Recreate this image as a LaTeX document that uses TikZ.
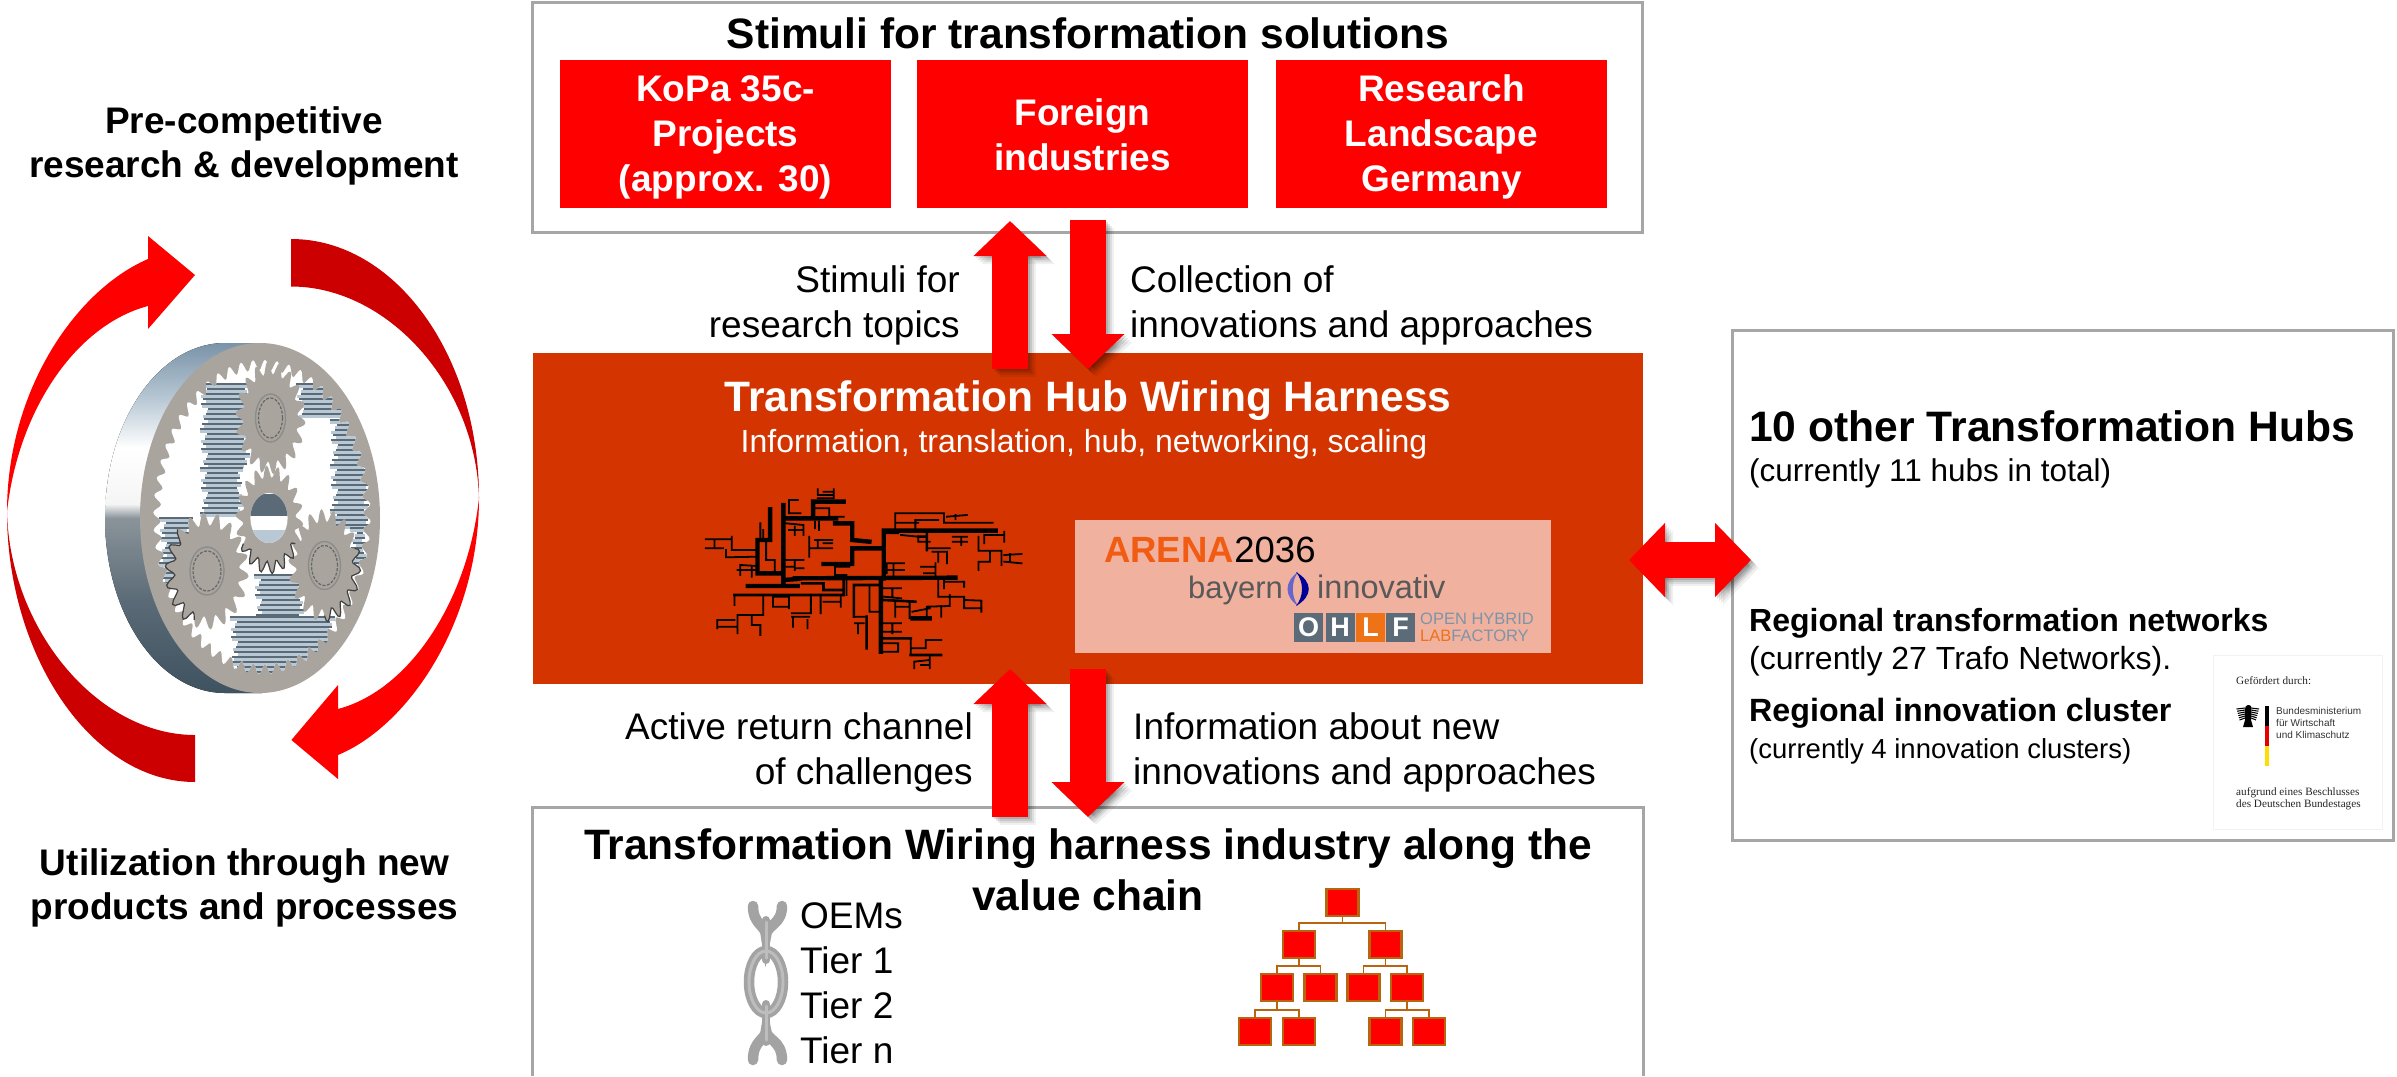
\documentclass[tikz,border=0pt]{standalone}
\usepackage{fontspec}
\setmainfont{Liberation Sans}
\newfontfamily\serifl{Liberation Serif}
\usetikzlibrary{arrows.meta,shapes.geometric}
\definecolor{boxgrey}{HTML}{A6A6A6}
\definecolor{hubred}{HTML}{D43500}
\definecolor{darkr}{HTML}{CC0000}
\definecolor{panel}{HTML}{F0B19F}
\definecolor{gearface}{HTML}{A9A59E}
\definecolor{orgbrown}{HTML}{B9650F}
\definecolor{ohlfgrey}{HTML}{5B6B78}
\definecolor{ohlfor}{HTML}{EE7216}
\definecolor{ohlft}{HTML}{7D94A8}
\definecolor{sideA}{HTML}{3F5260}
\definecolor{sideB}{HTML}{5A6A76}
\definecolor{sideC}{HTML}{8A949A}
\definecolor{sideD}{HTML}{F5F5F5}
\definecolor{sideE}{HTML}{B8C8D4}
\definecolor{sideF}{HTML}{7A93A8}
\definecolor{linkc}{HTML}{A3A3A3}
\definecolor{linkhic}{HTML}{BDBDBD}
\pgfdeclareverticalshading{sideshade}{100bp}{
  color(0bp)=(sideA); color(25bp)=(sideA); color(38bp)=(sideB);
  color(50bp)=(sideC); color(52bp)=(sideD); color(60bp)=(white);
  color(67bp)=(sideE); color(75bp)=(sideF); color(100bp)=(sideF)}
\newcommand\fsz[2]{\fontsize{#1}{#2}\selectfont}
\newcommand\toothed[6]{plot[variable=\t,samples=#5*8+1,domain=0:360]
  ({#1+#3*(1+#6*sin(360*mod((#5/360)*\t,1)))*cos(\t)},{#2+#4*(1+#6*sin(360*mod((#5/360)*\t,1)))*sin(\t)})}
\newcommand\toothedpart[8]{plot[variable=\t,samples=40,domain=#7:#8]
  ({#1+#3*(1+#6*sin(360*mod((#5/360)*\t+1,1)))*cos(\t)},{#2+#4*(1+#6*sin(360*mod((#5/360)*\t+1,1)))*sin(\t)})}
\newcommand\stripes[4]{\foreach \k in {0,...,#4}{
  \draw[line width=2.6pt,sideB] ({#1+mod(\k*7,9)},{#3+5*\k}) -- ({#2-mod(\k*5,7)},{#3+5*\k});
  \draw[line width=2.2pt,sideE] ({#1+mod(\k*5,9)},{#3+2.5+5*\k}) -- ({#2-mod(\k*3,7)},{#3+2.5+5*\k});}}
\newcommand\fatarrow[3]{%
  \foreach \s/\op in {8/.06,6/.08,4/.1,2/.12}{\draw[#1,draw=black,fill=black,opacity=\op,transform canvas={xshift=\s pt,yshift=-\s pt}] (#2) -- (#3);}
  \draw[#1] (#2) -- (#3);}
\newcommand\planethub[4]{%
  \draw[black!45,line width=1.4pt,fill=gearface] (#1,#2) ellipse [x radius=#3pt,y radius=#4pt];
  \draw[black!60,line width=1.2pt,dash pattern=on 3pt off 1.5pt] (#1,#2) ellipse [x radius=#3pt-3pt,y radius=#4pt-4pt];}
\tikzset{
  box/.style={draw=boxgrey,line width=3pt,fill=white,inner sep=0pt},
  redbox/.style={fill=red,inner sep=0pt,minimum width=331pt,minimum height=148pt},
  redtext/.style={text=white,font=\bfseries\fsz{37}{45},align=center,inner sep=0pt,anchor=base},
  lab/.style={font=\fsz{37}{45},inner sep=0pt,anchor=base},
  blab/.style={font=\bfseries\fsz{37}{44},inner sep=0pt,anchor=base,align=center},
  head/.style={font=\bfseries\fsz{42.5}{51},inner sep=0pt,anchor=base,align=center},
  fatv/.style={line width=36pt,draw=red,-{Triangle[width=71pt,length=35pt]}},
  fatd/.style={line width=36pt,draw=red,{Triangle[width=72pt,length=36pt]}-{Triangle[width=72pt,length=36pt]}},
  org/.style={draw=orgbrown,line width=2.5pt,fill=red,inner sep=0pt,minimum width=32pt,minimum height=27pt},
  orgline/.style={draw=orgbrown,line width=1.6pt},
  link/.style={draw=linkc,line width=10.5pt,line cap=round},
  linkhi/.style={draw=linkhic,line width=3pt,line cap=round},
  ohl/.style={fill=ohlfgrey,text=white,inner sep=0pt,minimum width=29pt,minimum height=29pt,font=\bfseries\fsz{27}{27}},
  fund/.style={font=\serifl\fsz{11.2}{12},text=black!85,inner sep=0pt,anchor=base west,align=left},
}
\begin{document}
\begin{tikzpicture}[x=1pt,y=-1pt]
\useasboundingbox (0,0) rectangle (2397,1076);
% ---- boxes
\node[box,minimum width=1110pt,minimum height=230pt] (stimbox) at (1087.5,117.5) {};
\node[fill=hubred,inner sep=0pt,minimum width=1110pt,minimum height=331pt] (hub) at (1088,518.5) {};
\coordinate (bbl) at (532,1076); \coordinate (bbtl) at (532,807);
\coordinate (bbtr) at (1643,807); \coordinate (bbr) at (1643,1076);
\draw[draw=boxgrey,line width=3pt] (bbl) -- (bbtl) -- (bbtr) -- (bbr);
\node[box,minimum width=661pt,minimum height=510pt] (hubsbox) at (2062.5,585) {};
% ---- top
\node[head] (stimtitle) at (1088,48) {Stimuli for transformation solutions};
\node[redbox] (kopabox) at (725.5,134) {};
\node[redbox] (foreignbox) at (1082.5,134) {};
\node[redbox] (landbox) at (1441.5,134) {};
\node[redtext] (kopa) at (725.5,191) {KoPa 35c-\\Projects\\(approx. 30)};
\node[redtext] (foreign) at (1082.5,170) {Foreign\\industries};
\node[redtext] (landscape) at (1441.5,191) {Research\\Landscape\\Germany};
% ---- labels
\node[lab,align=right,anchor=base east] (l1) at (960,337) {Stimuli for\\research topics};
\node[lab,align=left,anchor=base west] (l2) at (1130,337) {Collection of\\innovations and approaches};
\node[lab,align=right,anchor=base east] (l3) at (973,784) {Active return channel\\of challenges};
\node[lab,align=left,anchor=base west] (l4) at (1133,784) {Information about new\\innovations and approaches};
% ---- hub text
\node[head,text=white] (hubtitle) at (1088,411) {Transformation Hub Wiring Harness};
\node[font=\fsz{32}{38},text=white,inner sep=0pt,anchor=base] (hubsub) at (1084,452) {Information, translation, hub, networking, scaling};
% ---- harness
\begin{scope}[shift={(680,480)},x=0.574pt,y=-0.3333pt,line cap=rect]
\draw[black,line width=4.4pt] (118,318)--(205,318) (135,280)--(180,280) (135,180)--(135,280) (157,88)--(157,180) (135,180)--(157,180) (180,75)--(180,305) (180,300)--(205,297) (200,295)--(480,293) (350,295)--(350,515) (355,152)--(550,152) (355,152)--(355,295) (300,205)--(355,205) (300,205)--(300,250) (250,252)--(300,252) (232,65)--(285,65) (232,65)--(232,115) (180,115)--(272,115) (270,130)--(300,130) (300,130)--(300,175) (300,180)--(330,185) (405,415)--(435,415);
\draw[black,line width=2.6pt] (95,345)--(285,345) (213,310)--(250,310) (250,310)--(250,330) (250,330)--(285,330) (285,300)--(285,345) (415,170)--(430,170) (430,160)--(430,210) (355,360)--(410,365) (303,315)--(345,315) (303,315)--(303,410) (325,410)--(325,505) (350,475)--(402,475) (402,525)--(455,525);
\draw[black,line width=1.8pt] (95,345)--(95,375) (145,345)--(145,405) (100,405)--(145,405) (100,405)--(100,460) (125,405)--(125,435) (125,435)--(140,435) (140,435)--(140,465) (65,440)--(100,440) (65,420)--(95,420) (65,420)--(65,445)
(162,350)--(190,350) (162,350)--(162,380) (162,380)--(190,380) (190,350)--(190,385) (228,345)--(228,400) (228,400)--(195,400) (195,410)--(225,410) (197,410)--(197,440) (222,420)--(222,445) (245,345)--(245,400) (250,365)--(280,365) (280,350)--(280,380)
(303,410)--(325,410) (305,430)--(320,430) (310,430)--(310,460) (330,315)--(330,395) (330,395)--(345,395) (355,325)--(385,325) (370,330)--(370,350) (355,350)--(385,355) (375,365)--(375,410) (375,380)--(400,380) (400,365)--(400,415) (405,395)--(435,385) (470,345)--(470,378) (430,380)--(470,378) (430,380)--(430,415) (455,378)--(455,410) (495,360)--(525,362) (495,360)--(495,385) (495,385)--(525,385) (525,362)--(525,395)
(450,295)--(450,350) (450,350)--(495,350) (495,350)--(495,380) (460,295)--(460,325) (460,305)--(495,305) (495,305)--(495,320) (355,430)--(385,430) (370,430)--(370,460) (355,455)--(385,455) (402,475)--(402,525) (428,480)--(455,480) (428,480)--(428,505) (402,505)--(428,505) (355,490)--(380,490) (380,490)--(380,515) (350,515)--(380,515) (408,545)--(435,540) (408,545)--(408,565) (435,530)--(435,565) (420,555)--(435,555) (290,295)--(290,345)
(45,178)--(90,178) (45,205)--(75,205) (60,180)--(60,205) (90,170)--(90,210) (90,210)--(135,210) (80,210)--(80,232) (80,232)--(135,230) (105,255)--(135,258) (105,255)--(105,285) (125,260)--(125,290) (100,270)--(135,270) (140,130)--(140,180) (145,150)--(145,180) (150,180)--(150,240) (150,240)--(165,240) (165,240)--(165,270) (185,240)--(215,240) (200,240)--(200,270) (200,265)--(215,265) (185,260)--(200,260) (190,60)--(205,60) (190,60)--(190,100) (190,100)--(210,100)
(240,28)--(240,45) (240,45)--(268,45) (268,28)--(268,55) (250,35)--(268,35) (240,55)--(268,55) (235,85)--(260,85) (260,85)--(260,110) (260,110)--(285,110) (185,130)--(215,135) (190,150)--(215,150) (200,140)--(200,165) (215,135)--(215,165) (235,125)--(235,145) (242,125)--(242,150) (225,170)--(225,230) (225,205)--(265,205) (235,180)--(265,180) (240,180)--(240,205) (250,190)--(265,190) (270,260)--(295,260) (270,260)--(270,285) (270,285)--(290,285)
(375,100)--(460,100) (375,100)--(375,145) (375,128)--(415,128) (410,120)--(450,120) (410,120)--(410,145) (460,100)--(460,128) (460,128)--(545,128) (465,110)--(500,105) (480,105)--(480,118) (360,160)--(380,160) (385,165)--(415,170) (415,170)--(415,185) (415,185)--(435,185) (430,205)--(470,205) (440,215)--(465,215) (450,215)--(450,245) (465,215)--(465,250) (420,260)--(445,260) (445,250)--(445,285) (425,280)--(445,280) (475,170)--(500,170) (475,185)--(500,185) (490,170)--(490,195) (520,170)--(520,212) (530,165)--(565,165) (530,165)--(530,190) (565,155)--(565,185) (520,212)--(560,212) (540,212)--(540,245) (520,245)--(540,245) (520,245)--(520,270) (560,212)--(560,255) (565,225)--(595,222) (565,245)--(595,250) (575,222)--(575,245) (360,250)--(390,250) (360,250)--(360,280) (360,270)--(390,270) (372,250)--(372,290);
\end{scope}
% ---- partner panel
\node[fill=panel,inner sep=0pt,minimum width=476pt,minimum height=133pt] (partner) at (1313,586.5) {};
\node[inner sep=0pt,anchor=base west,font=\bfseries\fsz{36.5}{40},text=ohlfor!80!red] (arena) at (1104,562) {ARENA};
\node[inner sep=0pt,anchor=base west,font=\fsz{36.5}{40},text=black] (arenanum) at (arena.base east) {2036};
\node[inner sep=0pt,anchor=base west,font=\fsz{31}{36},text=black!65] (bayern) at (1188,598) {bayern};
\node[inner sep=0pt,anchor=base west,font=\fsz{32.5}{36},text=black!65] (innov) at (1317,598) {innovativ};
\fill[blue!50!white!80!black] (1298,572) .. controls (1284,582) and (1284,596) .. (1298,606) .. controls (1291,596) and (1291,582) .. (1298,572) -- cycle;
\fill[blue!60!black] (1296,572) .. controls (1313,582) and (1313,596) .. (1296,606) .. controls (1304,596) and (1304,582) .. (1296,572) -- cycle;
\node[ohl] (oO) at (1308.5,627.5) {O};
\node[ohl] (oH) at (1340,627.5) {H};
\node[ohl,fill=ohlfor] (oL) at (1370.5,627.5) {L};
\node[ohl] (oF) at (1400.5,627.5) {F};
\node[inner sep=0pt,anchor=base west,font=\fsz{16.5}{18},text=ohlft] (ohlf1) at (1420,624) {OPEN HYBRID};
\node[inner sep=0pt,anchor=base west,font=\fsz{16.5}{18},text=ohlft] (ohlf2) at (1420,641) {\textcolor{ohlfor}{LAB}FACTORY};
% ---- bottom box contents
\node[head] (valuetitle) at (1088,910) {Transformation Wiring harness industry along the\\value chain};
\draw[link] (753,906) .. controls (753,925) and (766,925) .. (766,936) .. controls (766,925) and (782,925) .. (782,906);
\draw[link] (766,982) ellipse [x radius=17pt,y radius=31pt];
\draw[link] (753,1060) .. controls (753,1040) and (766,1040) .. (766,1030) .. controls (766,1040) and (782,1040) .. (782,1060);
\draw[draw=linkc,line width=8pt,line cap=round] (766,920) -- (766,960) (766,1004) -- (766,1042);
\draw[linkhi] (766,922) -- (766,958) (766,1006) -- (766,1040);
\draw[linkhi] (766,982) ellipse [x radius=17pt,y radius=31pt];
\node[lab,anchor=base west] (oems) at (800,928) {OEMs};
\node[lab,anchor=base west] (tier1) at (800,973) {Tier 1};
\node[lab,anchor=base west] (tier2) at (800,1018) {Tier 2};
\node[lab,anchor=base west] (tiern) at (800,1063) {Tier n};
% org chart
\node[org] (r) at (1342.5,902.5) {};
\node[org] (a) at (1299,944.5) {};
\node[org] (b) at (1385.5,944.5) {};
\node[org] (c1) at (1277,987.5) {};
\node[org] (c2) at (1320.5,987.5) {};
\node[org] (c3) at (1363.5,987.5) {};
\node[org] (c4) at (1407,987.5) {};
\node[org] (d1) at (1255,1031.5) {};
\node[org] (d2) at (1299,1031.5) {};
\node[org] (d3) at (1385.5,1031.5) {};
\node[org] (d4) at (1429,1031.5) {};
\draw[orgline] (r.south) -- ++(0,6) -| (a.north);
\draw[orgline] (r.south) -- ++(0,6) -| (b.north);
\draw[orgline] (a.south) -- ++(0,7) -| (c1.north);
\draw[orgline] (a.south) -- ++(0,7) -| (c2.north);
\draw[orgline] (b.south) -- ++(0,7) -| (c3.north);
\draw[orgline] (b.south) -- ++(0,7) -| (c4.north);
\draw[orgline] (c1.south) -- ++(0,8) -| (d1.north);
\draw[orgline] (c1.south) -- ++(0,8) -| (d2.north);
\draw[orgline] (c4.south) -- ++(0,8) -| (d3.north);
\draw[orgline] (c4.south) -- ++(0,8) -| (d4.north);
% ---- fat arrows
\coordinate (ua0) at (1010,369); \coordinate (ua1) at (1010,221);
\coordinate (da0) at (1088,220); \coordinate (da1) at (1088,369);
\coordinate (ub0) at (1010,817); \coordinate (ub1) at (1010,669);
\coordinate (db0) at (1088,669); \coordinate (db1) at (1088,817);
\coordinate (ha0) at (1629,560); \coordinate (ha1) at (1751,560);
\fatarrow{fatv}{ua0}{ua1}
\fatarrow{fatv}{da0}{da1}
\fatarrow{fatv}{ub0}{ub1}
\fatarrow{fatv}{db0}{db1}
\fatarrow{fatd}{ha0}{ha1}
% ---- right box
\node[inner sep=0pt,anchor=base west,font=\bfseries\fsz{42.6}{51}] (h10) at (1749,441) {10 other Transformation Hubs};
\node[inner sep=0pt,anchor=base west,font=\fsz{31.5}{36}] (h11) at (1749,481) {(currently 11 hubs in total)};
\node[inner sep=0pt,anchor=base west,font=\bfseries\fsz{32}{38}] (rtn) at (1749,631) {Regional transformation networks};
\node[inner sep=0pt,anchor=base west,font=\fsz{32}{38}] (rtn2) at (1749,669) {(currently 27 Trafo Networks).};
\node[inner sep=0pt,anchor=base west,font=\bfseries\fsz{32.2}{38}] (ric) at (1749,721.5) {Regional innovation cluster};
\node[inner sep=0pt,anchor=base west,font=\fsz{27.5}{32}] (ric2) at (1749,758) {(currently 4 innovation clusters)};
% funding logo
\node[draw=black!5,line width=.6pt,fill=white,inner sep=0pt,minimum width=169pt,minimum height=174pt] (fundbox) at (2297.5,742) {};
\node[fund] (f1) at (2236,684) {Gefördert durch:};
\fill[black] (2248,705) .. controls (2251,705) and (2252,707) .. (2251,709) -- (2251,720) -- (2253,727) -- (2243,727) -- (2245,720) -- (2245,709) .. controls (2245,707) and (2246,705) .. (2248,705) -- cycle;
\foreach \i in {0,...,5}{
  \draw[black,line width=1.1pt] (2245,{708+2*\i}) -- ({2236.5+.6*\i},{709+2.2*\i});
  \draw[black,line width=1.1pt] (2251,{708+2*\i}) -- ({2259-.6*\i},{709+2.2*\i});}
\fill[black] (2265,706) rectangle (2269,726);
\fill[red!90!black] (2265,726) rectangle (2269,746);
\fill[yellow!80!orange] (2265,746) rectangle (2269,766);
\node[inner sep=0pt,anchor=base west,font=\fsz{10}{12},text=black!80,align=left] (f2) at (2276,714) {Bundesministerium};
\node[inner sep=0pt,anchor=base west,font=\fsz{10}{12},text=black!80] (f3) at (2276,726) {für Wirtschaft};
\node[inner sep=0pt,anchor=base west,font=\fsz{10}{12},text=black!80] (f4) at (2276,738) {und Klimaschutz};
\node[fund] (f5) at (2236,795) {aufgrund eines Beschlusses};
\node[fund] (f6) at (2236,807) {des Deutschen Bundestages};
% ---- left
\node[blab] (pre) at (244,177) {Pre-competitive\\research \& development};
\node[blab] (util) at (244.5,919) {Utilization through new\\products and processes};
% circular arrows
\fill[darkr] (291,239) .. controls (395,239) and (479,355) .. (479,498) .. controls (476,385) and (388,286.5) .. (291,286.5) -- cycle;
\fill[darkr] (195,782) .. controls (91,782) and (7,655) .. (7,512) .. controls (10,630) and (98,735) .. (195,735) -- cycle;
\fill[red] (479,498) .. controls (479,620) and (410,725) .. (338,755) -- (338,779) -- (291.4,740) -- (338,685) -- (338,709) .. controls (410,690) and (468,600) .. (479,498) -- cycle;
\fill[red] (7,512) .. controls (7,390) and (76,290) .. (148,259) -- (148,236) -- (195,275) -- (148,329) -- (148,306) .. controls (76,325) and (18,410) .. (7,512) -- cycle;
% gear
\fill[shading=sideshade] (225,343) arc[start angle=90,end angle=270,x radius=120pt,y radius=175pt] -- (262,693) -- (262,343) -- cycle;
\fill[gearface] (260,518) ellipse [x radius=120pt,y radius=175pt];
\fill[white] \toothed{262}{517}{105}{152}{56}{.035};
\begin{scope}
\clip \toothed{262}{517}{105}{152}{56}{.035};
\stripes{296}{370}{384}{6}
\stripes{330}{370}{420}{21}
\stripes{200}{250}{384}{16}
\stripes{200}{243}{468}{9}
\stripes{159}{193}{518}{13}
\stripes{254}{304}{575}{8}
\stripes{230}{335}{617}{11}
\stripes{350}{368}{528}{7}
\end{scope}
\fill[gearface] \toothed{270.5}{418}{31}{50}{18}{.13};
\planethub{270.5}{418}{15}{24}
\fill[gearface] \toothed{207}{571}{37}{52}{18}{.13};
\planethub{207}{571}{17}{24}
\fill[gearface] \toothed{324.5}{565.5}{32}{50}{18}{.13};
\planethub{324.5}{565.5}{16}{24}
\fill[gearface] \toothed{269.4}{519.6}{30}{48}{18}{.13};
\draw[black!75,line width=1.2pt] \toothedpart{207}{571}{37}{52}{18}{.13}{110}{225};
\draw[black!75,line width=1.2pt] \toothedpart{324.5}{565.5}{32}{50}{18}{.13}{-20}{90};
\draw[black!75,line width=1.2pt] \toothedpart{269.4}{519.6}{30}{48}{18}{.13}{30}{150};
\fill[white] (269,518) ellipse [x radius=18.6pt,y radius=25pt];
\begin{scope}
\clip (269,518) ellipse [x radius=18.6pt,y radius=25pt];
\fill[sideB] (245,494) rectangle (295,516);
\fill[sideE] (245,530) rectangle (295,545);
\end{scope}
\end{tikzpicture}
\end{document}
